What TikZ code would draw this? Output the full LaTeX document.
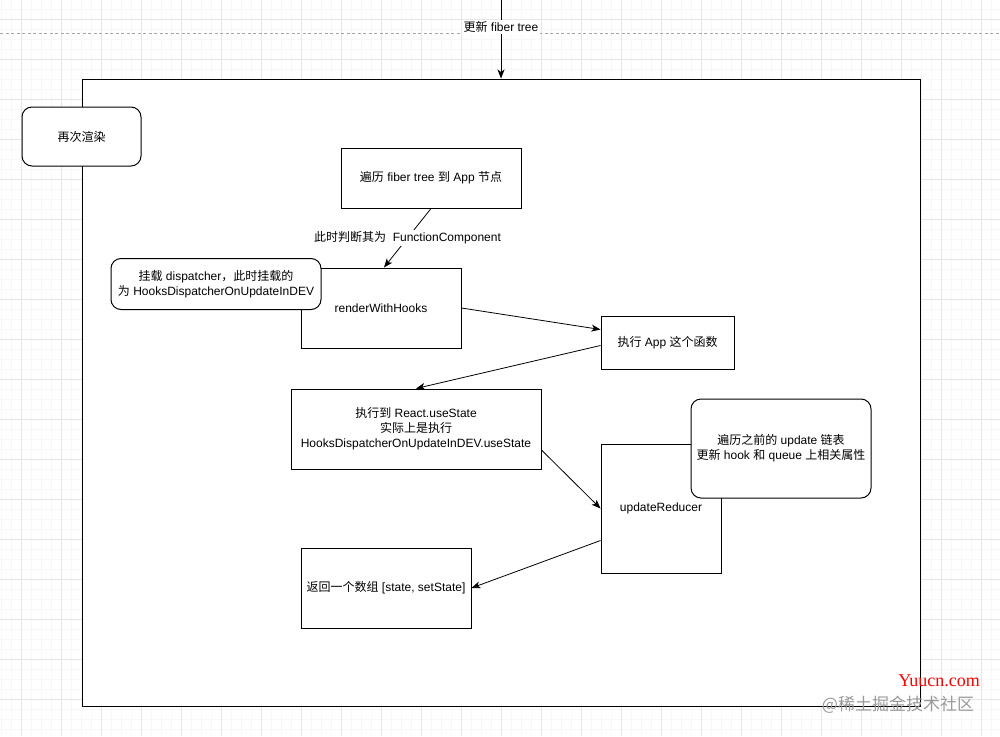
\documentclass[tikz,border=0pt]{standalone}
\usepackage{fontspec}
\setmainfont{Liberation Sans}
\newfontfamily\cjk{Noto Sans CJK SC}
\newfontfamily\serifwm{Liberation Serif}
\usetikzlibrary{arrows.meta}
\newcommand\C[1]{{\cjk #1}}
\definecolor{gridmajor}{HTML}{E6E6E6}
\definecolor{gridminor}{HTML}{F8F8F8}
\begin{document}
\begin{tikzpicture}[x=1pt,y=-1pt,
  box/.style={draw=black, line width=1pt, fill=white, inner sep=0pt, align=center, font=\fontsize{12}{15}\selectfont},
  rbox/.style={box, rounded corners=10pt},
  arr/.style={-{Stealth[length=9pt,width=7pt,inset=2.5pt]}, line width=0.8pt},
  lbl/.style={fill=white, inner sep=1.5pt, font=\fontsize{12}{15}\selectfont}]
\useasboundingbox (0,0) rectangle (1000,736);
% grid
\foreach \x in {1,11,...,991} \draw[gridminor, line width=0.5pt] (\x,0) -- (\x,736);
\foreach \y in {9,19,...,729} \draw[gridminor, line width=0.5pt] (0,\y) -- (1000,\y);
\foreach \x in {21,61,...,981} \draw[gridmajor, line width=0.8pt] (\x,0) -- (\x,736);
\foreach \y in {19,59,...,699} \draw[gridmajor, line width=0.8pt] (0,\y) -- (1000,\y);
% dashed separator
\coordinate (dl) at (0,33);
\coordinate (dr) at (1000,33);
\draw[black!35, line width=0.6pt, dash pattern=on 3pt off 2.5pt] (dl) -- (dr);
% frame
\node[draw=black, line width=1pt, fill=white, minimum width=838pt, minimum height=627pt, inner sep=0pt] (frame) at (501,392.5) {};
% nodes
\node[rbox, minimum width=119pt, minimum height=59pt] (again) at (81.5,136.5) {\C{再次渲染}};
\node[box, minimum width=180pt, minimum height=60pt] (fib) at (431,178) {\C{遍历} fiber tree \C{到} App \C{节点}};
\node[box, minimum width=160pt, minimum height=80pt] (rwh) at (381,308) {renderWithHooks};
\node[rbox, minimum width=210pt, minimum height=51pt] (mnt) at (216,284) {\C{挂载} dispatcher\C{，此时挂载的}\\\C{为} HooksDispatcherOnUpdateInDEV};
\node[box, minimum width=133pt, minimum height=53pt] (app) at (667.5,342.5) {\C{执行} App \C{这个函数}};
\node[box, minimum width=250pt, minimum height=80pt] (exe) at (416,429) {\C{执行到} React.useState\\\C{实际上是执行}\\HooksDispatcherOnUpdateInDEV.useState};
\node[box, minimum width=120pt, minimum height=129pt] (upd) at (661,508.5) {updateReducer};
\node[rbox, minimum width=180pt, minimum height=99pt] (note) at (781,448.5) {\C{遍历之前的} update \C{链表}\\\C{更新} hook \C{和} queue \C{上相关属性}};
\node[box, minimum width=170pt, minimum height=80pt] (ret) at (386,588) {\C{返回一个数组} [state, setState]};
% connectors
\coordinate (top) at (501,0);
\draw[arr] (top) -- node[lbl, pos=0.34] (toplbl) {\C{更新} fiber tree} (frame.north);
\draw[arr] (fib.south) -- node[lbl] (fclbl) {\C{此时判断其为}\ \ FunctionComponent} ([xshift=3pt]rwh.north);
\draw[arr] (rwh.east) -- ([yshift=13pt]app.west);
\draw[arr] ([yshift=-3pt]app.west) -- (exe.north);
\draw[arr] ([yshift=-21pt]exe.east) -- (upd.west);
\draw[arr] ([yshift=-32pt]upd.west) -- (ret.east);
% watermarks
\node[text=red, font=\serifwm\fontsize{18}{18}\selectfont, inner sep=0pt] (wm1) at (939,681) {Yuucn.com};
\node[text=black!40, font=\cjk\fontsize{17}{17}\selectfont, inner sep=0pt] (wm2) at (898,705) {@稀土掘金技术社区};
\end{tikzpicture}
\end{document}
